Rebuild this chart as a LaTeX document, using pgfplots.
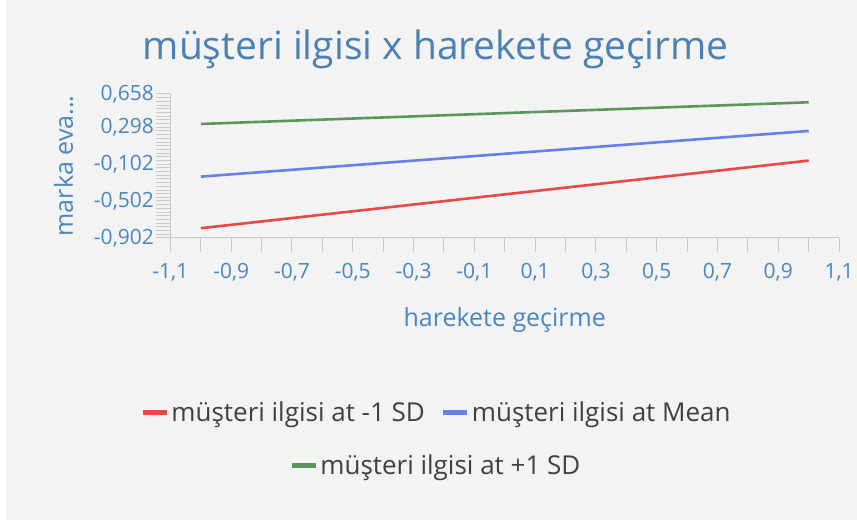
\documentclass[border=0pt]{standalone}
\usepackage{pgfplots}
\pgfplotsset{compat=1.18}
\usepackage{fontspec}
\setmainfont{Open Sans}
\definecolor{bg}{HTML}{F3F3F3}
\definecolor{titleblue}{HTML}{4A80B4}
\definecolor{tickblue}{HTML}{4A86C0}
\definecolor{gridgray}{HTML}{C8C8C8}
\definecolor{cred}{HTML}{E84848}
\definecolor{cblue}{HTML}{6480EA}
\definecolor{cgreen}{HTML}{5A9658}
\definecolor{legtext}{HTML}{404040}
\pgfplotsset{
  mylegend/.style={
    legend style={draw=none, fill=none, font=\fontsize{26}{30}\selectfont, text=legtext,
      /tikz/every even column/.append style={column sep=14pt}},
    legend cell align=left,
    legend image code/.code={\draw[##1, line width=5pt] (0pt,0pt) -- (24pt,0pt);},
  }
}
\begin{document}
\begin{tikzpicture}
\fill[white] (0pt,0pt) rectangle (857pt,520pt);
\fill[bg] (6pt,0pt) rectangle (857pt,520pt);
\node[text=titleblue, font=\fontsize{39}{44}\selectfont] at (436pt,471pt) {müşteri ilgisi x harekete geçirme};
\begin{axis}[
  at={(170.5pt,282pt)}, anchor=south west, scale only axis,
  width=669pt, height=144pt,
  xmin=-1.1, xmax=1.1, ymin=-0.902, ymax=0.658,
  axis lines*=left,
  axis line style={gridgray, line width=1.2pt, -},
  tick align=outside,
  major tick length=14pt, minor tick length=14pt,
  tick style={gridgray, line width=1pt},
  minor y tick style={gridgray, line width=0.8pt},
  xtick={-1.1,-0.9,-0.7,-0.5,-0.3,-0.1,0.1,0.3,0.5,0.7,0.9,1.1},
  xticklabels={{-1,1},{-0,9},{-0,7},{-0,5},{-0,3},{-0,1},{0,1},{0,3},{0,5},{0,7},{0,9},{1,1}},
  minor xtick={-1,-0.8,-0.6,-0.4,-0.2,0,0.2,0.4,0.6,0.8,1},
  ytick={-0.902,-0.502,-0.102,0.298,0.658},
  yticklabels={{-0,902},{-0,502},{-0,102},{0,298},{0,658}},
  minor ytick={-0.862,-0.822,-0.782,-0.742,-0.702,-0.662,-0.622,-0.582,-0.542,-0.462,-0.422,-0.382,-0.342,-0.302,-0.262,-0.222,-0.182,-0.142,-0.062,-0.022,0.018,0.058,0.098,0.138,0.178,0.218,0.258,0.338,0.378,0.418,0.458,0.498,0.538,0.578,0.618},
  tick label style={text=tickblue, font=\fontsize{21}{25}\selectfont},
  xticklabel style={yshift=-8pt},
  yticklabel style={xshift=1pt},
  xlabel={harekete geçirme},
  ylabel={marka eva...},
  label style={text=tickblue, font=\fontsize{25}{29}\selectfont},
  xlabel style={yshift=-19pt},
  ylabel style={yshift=14pt},
  mylegend,
  legend columns=2,
  legend style={at={(0.398,-1.215)}, anchor=center},
  clip=false,
]
\addplot[cred, line width=2.6pt] coordinates {(-1,-0.797) (1,-0.064)};
\addlegendentry{müşteri ilgisi at -1 SD}
\addplot[cblue, line width=2.6pt] coordinates {(-1,-0.238) (1,0.257)};
\addlegendentry{müşteri ilgisi at Mean}
\addplot[cgreen, line width=2.6pt, forget plot] coordinates {(-1,0.333) (1,0.568)};
\end{axis}
\begin{axis}[
  at={(170.5pt,282pt)}, anchor=south west, scale only axis,
  width=669pt, height=144pt,
  xmin=-1.1, xmax=1.1, ymin=-0.902, ymax=0.658,
  hide axis,
  mylegend,
  legend style={at={(0.397,-1.583)}, anchor=center},
]
\addlegendimage{cgreen, line width=2.6pt}
\addlegendentry{müşteri ilgisi at +1 SD}
\end{axis}
\end{tikzpicture}
\end{document}
